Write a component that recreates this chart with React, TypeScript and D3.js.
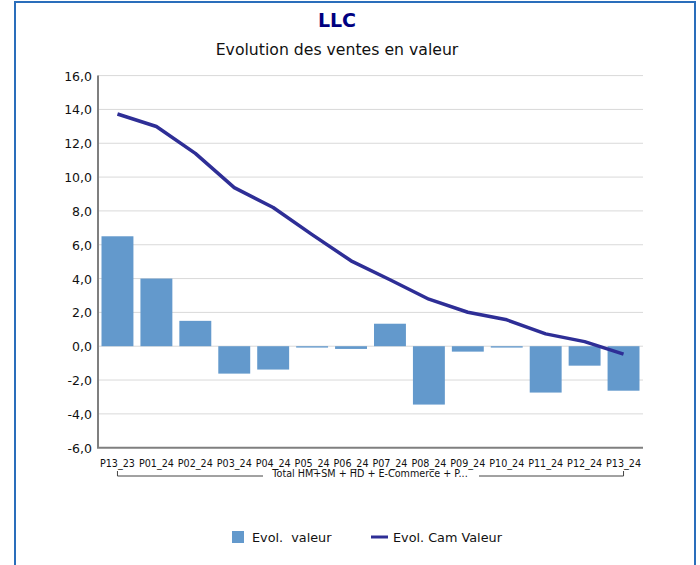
import React, { useEffect, useRef } from "react";
import * as d3 from "d3";

// periods and values
const periods = [
  "P13_23", "P01_24", "P02_24", "P03_24", "P04_24", "P05_24", "P06_24",
  "P07_24", "P08_24", "P09_24", "P10_24", "P11_24", "P12_24", "P13_24",
];
const evolValeur = [6.5, 4.0, 1.5, -1.62, -1.38, -0.08, -0.16, 1.33, -3.45, -0.32, -0.08, -2.74, -1.15, -2.63];
const evolCamValeur = [13.73, 12.99, 11.4, 9.38, 8.2, 6.6, 5.05, 3.93, 2.78, 2.01, 1.56, 0.73, 0.27, -0.47];
const yTicks = [-6, -4, -2, 0, 2, 4, 6, 8, 10, 12, 14, 16];
const groupLabel = "Total HM+SM + HD + E-Commerce + P...";

const FONT = "'DejaVu Sans', Verdana, sans-serif";

const App = () => {
  const ref = useRef<SVGSVGElement>(null);

  useEffect(() => {
    const svg = d3.select(ref.current);
    svg.selectAll("*").remove();

    const plot = { left: 98, right: 643, top: 75.6, bottom: 447.7 };

    // frame
    svg.append("rect")
      .attr("x", 15).attr("y", 2).attr("width", 680).attr("height", 600)
      .attr("fill", "#fff").attr("stroke", "#2a6ebb").attr("stroke-width", 2);

    // titles
    svg.append("text").attr("x", 337).attr("y", 27).attr("text-anchor", "middle")
      .attr("font-family", FONT).attr("font-size", 19).attr("font-weight", "bold")
      .attr("fill", "#000080").text("LLC");
    svg.append("text").attr("x", 337).attr("y", 55).attr("text-anchor", "middle")
      .attr("font-family", FONT).attr("font-size", 15.7).attr("fill", "#111").text("Evolution des ventes en valeur");

    const x = d3.scaleBand().domain(periods).range([plot.left, plot.right]).paddingInner(0.18).paddingOuter(0.09);
    const y = d3.scaleLinear().domain([-6, 16]).range([plot.bottom, plot.top]);

    // grid
    svg.append("g").selectAll("line").data(yTicks.filter((t) => t !== -6)).enter().append("line")
      .attr("x1", plot.left).attr("x2", plot.right)
      .attr("y1", (d) => y(d)).attr("y2", (d) => y(d))
      .attr("stroke", "#d9d9d9").attr("stroke-width", 1);

    // y labels
    svg.append("g").selectAll("text").data(yTicks).enter().append("text")
      .attr("x", plot.left - 6).attr("y", (d) => y(d) + 5)
      .attr("text-anchor", "end").attr("font-family", FONT).attr("font-size", 12.5).attr("fill", "#111")
      .text((d) => d3.format(".1f")(d).replace(".", ",").replace("−", "-"));

    // bars
    svg.append("g").selectAll("rect").data(evolValeur).enter().append("rect")
      .attr("x", (_, i) => x(periods[i])!)
      .attr("width", x.bandwidth())
      .attr("y", (d) => y(Math.max(0, d)))
      .attr("height", (d) => Math.abs(y(d) - y(0)))
      .attr("fill", "#6399cc");

    // axes lines
    svg.append("line").attr("x1", plot.left).attr("x2", plot.left)
      .attr("y1", plot.top).attr("y2", plot.bottom).attr("stroke", "#7f7f7f").attr("stroke-width", 2);
    svg.append("line").attr("x1", plot.left - 1).attr("x2", plot.right)
      .attr("y1", plot.bottom).attr("y2", plot.bottom).attr("stroke", "#7f7f7f").attr("stroke-width", 2);

    // line series
    const line = d3.line<number>()
      .x((_, i) => x(periods[i])! + x.bandwidth() / 2)
      .y((d) => y(d));
    svg.append("path").datum(evolCamValeur).attr("d", line)
      .attr("fill", "none").attr("stroke", "#2e2e96").attr("stroke-width", 3.5).attr("stroke-linejoin", "round");

    // x labels
    svg.append("g").selectAll("text").data(periods).enter().append("text")
      .attr("x", (d) => x(d)! + x.bandwidth() / 2).attr("y", 467)
      .attr("text-anchor", "middle").attr("font-family", FONT).attr("font-size", 9.6).attr("fill", "#111")
      .text((d) => d);

    // group bracket
    const gx0 = x(periods[0])! + x.bandwidth() / 2;
    const gx1 = x(periods[periods.length - 1])! + x.bandwidth() / 2;
    const gy = 476;
    svg.append("path")
      .attr("d", `M${gx0},471V${gy}H263M479,${gy}H${gx1}V471`)
      .attr("fill", "none").attr("stroke", "#444").attr("stroke-width", 1);
    svg.append("text").attr("x", 370).attr("y", 477).attr("text-anchor", "middle")
      .attr("font-family", FONT).attr("font-size", 9.6).attr("fill", "#111").text(groupLabel);

    // legend
    const lg = svg.append("g").attr("font-family", FONT).attr("font-size", 12.8).attr("fill", "#111");
    lg.append("rect").attr("x", 232).attr("y", 531).attr("width", 12).attr("height", 12).attr("fill", "#6399cc");
    lg.append("text").attr("x", 252).attr("y", 542).attr("xml:space", "preserve").text("Evol.  valeur");
    lg.append("line").attr("x1", 371).attr("x2", 388).attr("y1", 537).attr("y2", 537)
      .attr("stroke", "#2e2e96").attr("stroke-width", 3);
    lg.append("text").attr("x", 393).attr("y", 542).text("Evol. Cam Valeur");
  }, []);

  return (
    <svg ref={ref} width={700} height={565} style={{ position: "absolute", left: 0, top: 0 }} />
  );
};

export default App;
